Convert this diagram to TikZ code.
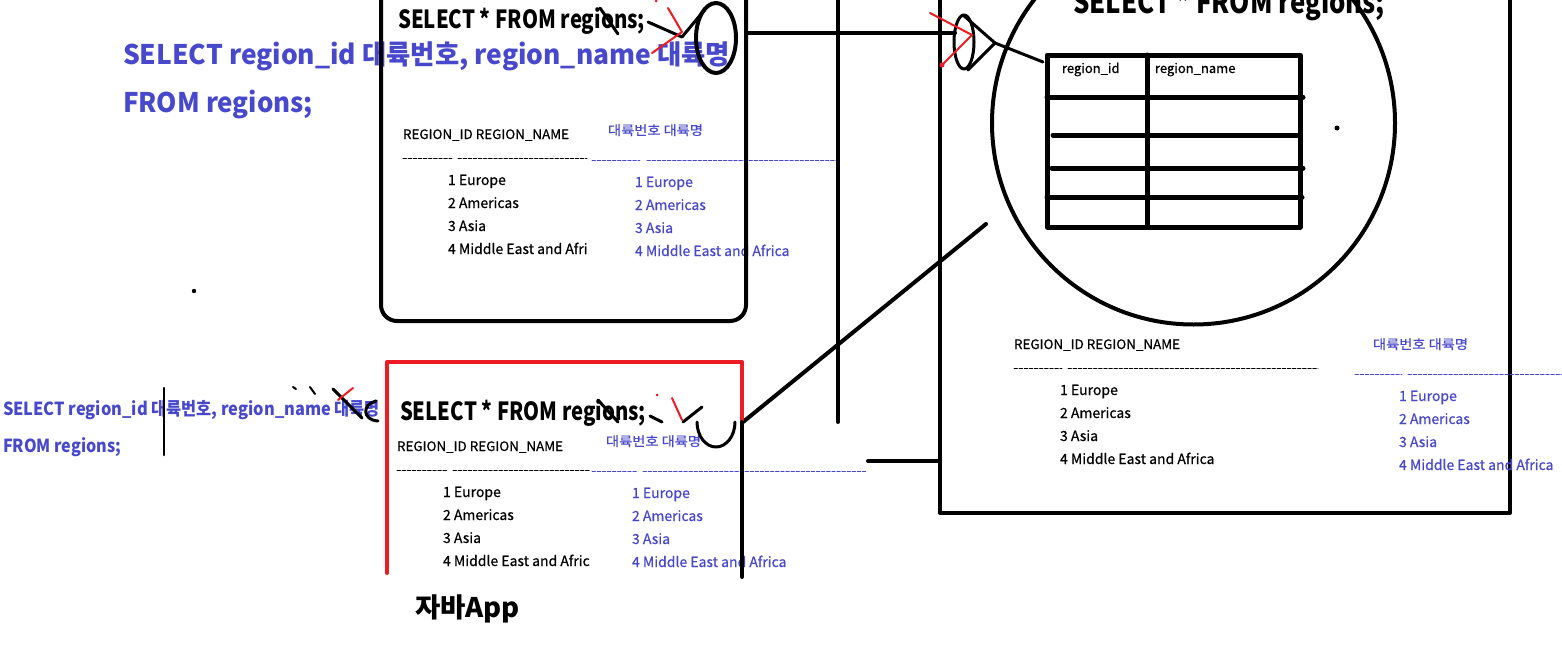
\documentclass[tikz,border=0pt]{standalone}
\usepackage{fontspec}
\setmainfont{Noto Sans CJK KR}
\newfontfamily\rowfont[BoldFont={Noto Sans CJK KR},BoldFeatures={FakeBold=0.6}]{Noto Sans CJK KR}
\definecolor{qblue}{RGB}{72,72,204}
\definecolor{qred}{RGB}{237,28,36}
\newlength\fitlen
\newcommand\fitto[2]{\settowidth\fitlen{#2}\pgfmathsetmacro\fitr{#1/\fitlen}\scalebox{\fitr}[1]{#2}}
\tikzset{
  tx/.style={anchor=base west, inner sep=0pt, outer sep=0pt},
  bigtxt/.style={tx, font=\fontsize{25}{25}\selectfont\bfseries},
  huge/.style={tx, font=\fontsize{31}{31}\selectfont\bfseries},
  bluebig/.style={tx, text=qblue, font=\fontsize{27}{27}\selectfont\bfseries},
  bluemid/.style={tx, text=qblue, font=\fontsize{18}{18}\selectfont\bfseries},
  small/.style={tx, font=\fontsize{13}{13}\selectfont\rowfont\bfseries},
  row/.style={tx, font=\fontsize{14}{14}\selectfont\rowfont\bfseries},
  smallb/.style={small, text=qblue},
  rowb/.style={row, text=qblue},
  ln/.style={line width=4pt},
  thin/.style={line width=3pt},
  redln/.style={line width=2pt, qred},
  dashk/.style={line width=0.8pt, dash pattern=on 3.5pt off 1.6pt},
  dashb/.style={line width=0.8pt, qblue, dash pattern=on 3.5pt off 1.6pt},
}
\begin{document}
\begin{tikzpicture}[x=1pt,y=-1pt,line cap=round,line join=round]
\useasboundingbox (0,0) rectangle (1562,645);
\clip (0,0) rectangle (1562,645);
\fill[white] (0,0) rectangle (1562,645);

% ---------- top box text ----------
\node[bigtxt] (s1) at (398,28) {\fitto{247}{SELECT * FROM regions;}};
\node[bluebig] (b1) at (123,64) {\fitto{607}{SELECT region\_id 대륙번호, region\_name 대륙명}};
\node[bluebig] (b2) at (123,112) {\fitto{190}{FROM regions;}};
\node[small] (h1) at (403,139) {\fitto{166}{REGION\_ID REGION\_NAME}};
\draw[dashk] (403,158) -- (452,158);
\draw[dashk] (458,158) -- (587,158);
\draw[dashb] (592,160) -- (640,160);
\draw[dashb] (647,160) -- (838,160);
\node[row] (r11) at (448,185) {1 Europe};
\node[row] (r12) at (448,208) {2 Americas};
\node[row] (r13) at (448,231) {3 Asia};
\begin{scope}
\clip (440,230) rectangle (590,260);
\node[row] (r14) at (448,254) {4 Middle East and Afri};
\end{scope}
\node[smallb] (k1) at (608,135) {\fitto{95}{대륙번호 대륙명}};
\node[rowb] (q11) at (635,187) {1 Europe};
\node[rowb] (q12) at (635,210) {2 Americas};
\node[rowb] (q13) at (635,233) {3 Asia};
\node[rowb] (q14) at (635,256) {4 Middle East and Africa};

% top box
\draw[ln,rounded corners=16pt] (381,-20) -- (381,321) -- (746,321) -- (746,-20);
\draw[ln] (716,38) ellipse [x radius=20, y radius=35];
\draw[thin] (600,8) -- (618,34);
\draw[thin] (648,22) -- (682,37) -- (706,8);
\draw[redln] (668,8) -- (682,32) -- (652,53);
\fill[qred] (656,1) circle (1.5);

% ---------- connectors ----------
\draw[ln] (746,33) -- (955,33);
\draw[ln] (838,-5) -- (838,422);
\draw[ln] (940,-5) -- (940,513) -- (1510,513) -- (1510,-5);
\draw[ln] (743,422) -- (986,224);
\draw[ln] (868,461) -- (940,461);

% ---------- right box ----------
\node[huge] (s3) at (1073,13) {\fitto{312}{SELECT * FROM regions;}};
\draw[ln] (1193.5,123) circle (201.5);
\draw[thin] (964,42) ellipse [x radius=10, y radius=27];
\draw[thin] (963,15) -- (995,43) -- (968,70);
\draw[thin] (995,43) -- (1043,62);
\draw[redln] (930,13) -- (972,35) -- (942,65);
\fill[qred] (942,65) circle (2.5);

\draw[line width=5pt] (1047,55) rectangle (1300,227);
\draw[line width=5pt] (1147,55) -- (1147,227);
\draw[line width=5pt] (1047,97) -- (1303,97);
\draw[line width=5pt] (1053,135) -- (1300,135);
\draw[line width=5pt] (1052,168) -- (1303,168);
\draw[line width=5pt] (1047,197) -- (1302,197);
\node[small] (t1) at (1062,73) {region\_id};
\node[small] (t2) at (1155,73) {region\_name};
\fill (1337,128) circle (2.5);

\node[small] (h3) at (1014,349) {\fitto{166}{REGION\_ID REGION\_NAME}};
\draw[dashk] (1014,368) -- (1062,368);
\draw[dashk] (1068,368) -- (1318,368);
\node[row] (r31) at (1060,395) {1 Europe};
\node[row] (r32) at (1060,418) {2 Americas};
\node[row] (r33) at (1060,441) {3 Asia};
\node[row] (r34) at (1060,464) {4 Middle East and Africa};
\node[smallb] (k3) at (1373,349) {\fitto{95}{대륙번호 대륙명}};
\draw[dashb] (1355,374) -- (1402,374);
\draw[dashb] (1408,374) -- (1562,374);
\node[rowb] (q31) at (1399,401) {1 Europe};
\node[rowb] (q32) at (1399,424) {2 Americas};
\node[rowb] (q33) at (1399,447) {3 Asia};
\node[rowb] (q34) at (1399,470) {4 Middle East and Africa};

% ---------- bottom (red) box ----------
\node[bigtxt] (s2) at (400,420) {\fitto{246}{SELECT * FROM regions;}};
\node[small] (h2) at (397,451) {\fitto{166}{REGION\_ID REGION\_NAME}};
\draw[dashk] (397,470) -- (447,470);
\draw[dashk] (453,470) -- (590,470);
\draw[dashb] (592,471) -- (637,471);
\draw[dashb] (643,471) -- (866,471);
\node[row] (r21) at (443,497) {1 Europe};
\node[row] (r22) at (443,520) {2 Americas};
\node[row] (r23) at (443,543) {3 Asia};
\begin{scope}
\clip (435,540) rectangle (590,575);
\node[row] (r24) at (443,566) {4 Middle East and Afric};
\end{scope}
\node[smallb] (k2) at (606,446) {\fitto{95}{대륙번호 대륙명}};
\node[rowb] (q21) at (632,498) {1 Europe};
\node[rowb] (q22) at (632,521) {2 Americas};
\node[rowb] (q23) at (632,544) {3 Asia};
\node[rowb] (q24) at (632,567) {4 Middle East and Africa};
\node[tx, font=\fontsize{27}{27}\selectfont\bfseries] (app) at (415,617) {\fitto{105}{자바App}};

\draw[ln,qred] (387,573) -- (387,362) -- (742,362) -- (742,422);
\draw[ln] (742,422) -- (742,577);
\draw[thin] (598,400) -- (618,422);
\draw[thin] (650,416) -- (662,422);
\draw[thin] (683,422) -- (702,407);
\draw[thin] (697,422) arc[start angle=180, end angle=0, x radius=19, y radius=25];
\draw[redln] (672,398) -- (682,420);
\fill[qred] (657,395) circle (1.5);

% ---------- left text ----------
\node[bluemid] (lb1) at (3,415) {\fitto{377}{SELECT region\_id 대륙번호, region\_name 대륙명}};
\node[bluemid] (lb2) at (3,452) {\fitto{118}{FROM regions;}};
\draw[line width=2.5pt] (164,388) -- (164,455);
\draw[line width=2pt] (293,387) -- (296,389);
\draw[line width=2pt] (310,387) -- (315,394);
\draw[thin] (333,389) -- (362,418);
\draw[thin] (376,401) .. controls (362,404) and (362,420) .. (378,421);
\draw[redln] (338,400) -- (353,388);
\fill (194,291) circle (2.2);
\end{tikzpicture}
\end{document}
